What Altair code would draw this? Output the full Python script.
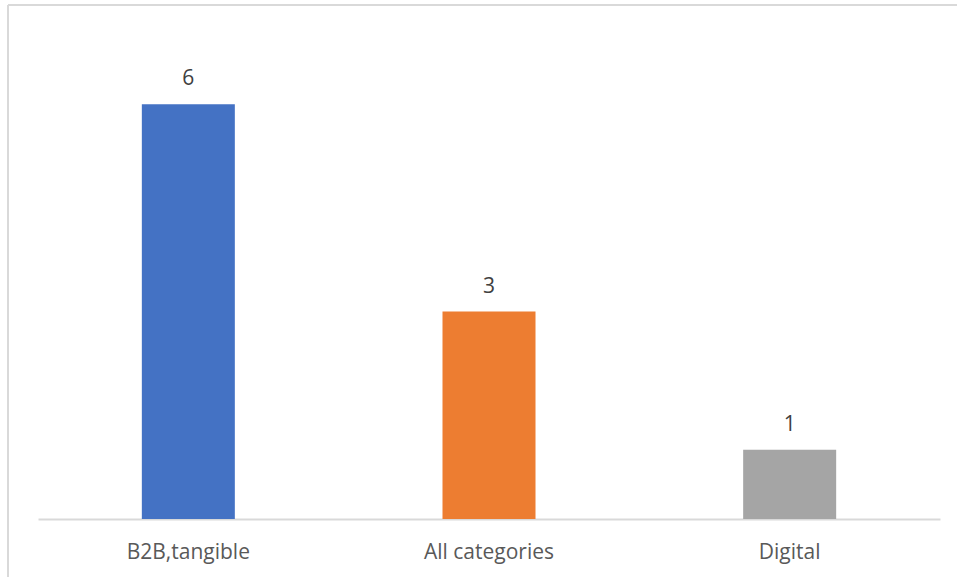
import altair as alt
import pandas as pd

categories = ["B2B,tangible", "All categories", "Digital"]
values = [6, 3, 1]
colors = ["#4472C4", "#ED7D31", "#A5A5A5"]

df = pd.DataFrame({"category": categories, "value": values, "color": colors})

W, H = 902, 484

x = alt.X("category:N", sort=categories, title=None,
          scale=alt.Scale(paddingInner=0, paddingOuter=0),
          axis=alt.Axis(labelAngle=0, labelFontSize=21, labelColor="#595959",
                        labelFont="Open Sans", labelPadding=22, ticks=False,
                        domainColor="#D9D9D9", domainWidth=2, grid=False))
y = alt.Y("value:Q", scale=alt.Scale(domain=[0, 7]), axis=None)

bars = alt.Chart(df).mark_bar(size=93).encode(
    x=x, y=y, color=alt.Color("color:N", scale=None)
)
labels = alt.Chart(df).mark_text(dy=-19, baseline="alphabetic", fontSize=21,
                                 font="Open Sans", color="#404040").encode(
    x=alt.X("category:N", sort=categories), y="value:Q", text="value:Q"
)
frame_left = alt.Chart(df).mark_rule(color="#D9D9D9", strokeWidth=2).encode(
    x=alt.value(-30), y=alt.value(-30), y2=alt.value(H + 70)
)
frame_top = alt.Chart(df).mark_rule(color="#D9D9D9", strokeWidth=2).encode(
    x=alt.value(-30), x2=alt.value(W + 60), y=alt.value(-30)
)

chart = alt.layer(frame_left, frame_top, bars, labels).properties(
    width=W, height=H,
    autosize=alt.AutoSizeParams(type="none"),
    padding={"left": 38, "top": 35, "right": 17, "bottom": 58},
).configure_view(stroke=None)

chart.save("out.html", embed_options={"renderer": "svg", "actions": False})
